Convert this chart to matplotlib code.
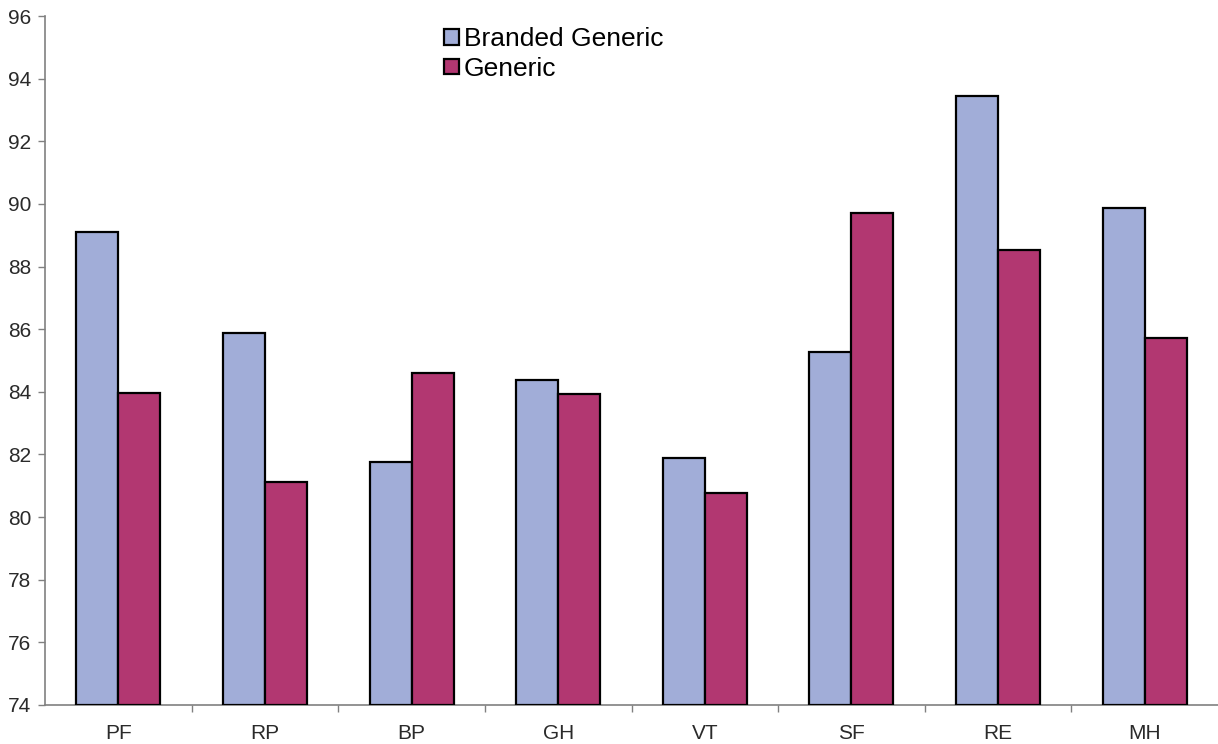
import matplotlib
matplotlib.use("Agg")
import matplotlib.pyplot as plt
import numpy as np
from matplotlib.ticker import FixedLocator, NullFormatter

plt.rcParams['font.family'] = ['Liberation Sans', 'DejaVu Sans']

categories = ["PF", "RP", "BP", "GH", "VT", "SF", "RE", "MH"]
branded_generic = [89.11, 85.87, 81.77, 84.38, 81.88, 85.28, 93.46, 89.86]
generic = [83.95, 81.11, 84.59, 83.93, 80.76, 89.70, 88.53, 85.71]
y_ticks = [74, 76, 78, 80, 82, 84, 86, 88, 90, 92, 94, 96]

blue = "#a1add8"
magenta = "#b23771"
axis_grey = "#808080"

fig = plt.figure(figsize=(12.18, 7.44), dpi=100)
ax = fig.add_axes([45 / 1218, 1 - 705 / 744, 1 - 45 / 1218, (705 - 16) / 744])

x = np.arange(len(categories))
w = 0.2865
ax.bar(x - w / 2, [v - 74 for v in branded_generic], w, bottom=74, color=blue,
       edgecolor="black", linewidth=1.6, label="Branded Generic", zorder=3)
ax.bar(x + w / 2, [v - 74 for v in generic], w, bottom=74, color=magenta,
       edgecolor="black", linewidth=1.6, label="Generic", zorder=3)

ax.set_xlim(-0.5, len(categories) - 0.5)
ax.set_ylim(74, 96)
ax.set_yticks(y_ticks)
ax.set_xticks(x)
ax.set_xticklabels(categories)
ax.xaxis.set_minor_locator(FixedLocator(np.arange(0.5, len(categories) - 0.5, 1)))
ax.xaxis.set_minor_formatter(NullFormatter())
ax.tick_params(axis="x", which="major", length=0, pad=14, labelsize=15, labelcolor="#2a2a2a")
ax.tick_params(axis="x", which="minor", length=5, width=1, color=axis_grey, direction="out")
ax.tick_params(axis="y", length=5, width=1, color=axis_grey, pad=5, labelsize=15,
               labelcolor="#2a2a2a")

for side in ("top", "right"):
    ax.spines[side].set_visible(False)
for side in ("left", "bottom"):
    ax.spines[side].set_color(axis_grey)
    ax.spines[side].set_linewidth(1.2)

leg = fig.legend(loc="upper left", bbox_to_anchor=(444 / 1218, 1 - 27 / 744),
                 frameon=False, fontsize=19, handlelength=0.55, handleheight=0.55,
                 handletextpad=0.2, labelspacing=0.22, borderpad=0, borderaxespad=0)
for h in leg.legend_handles:
    h.set_linewidth(1.6)

fig.savefig("out.png", dpi=100)
